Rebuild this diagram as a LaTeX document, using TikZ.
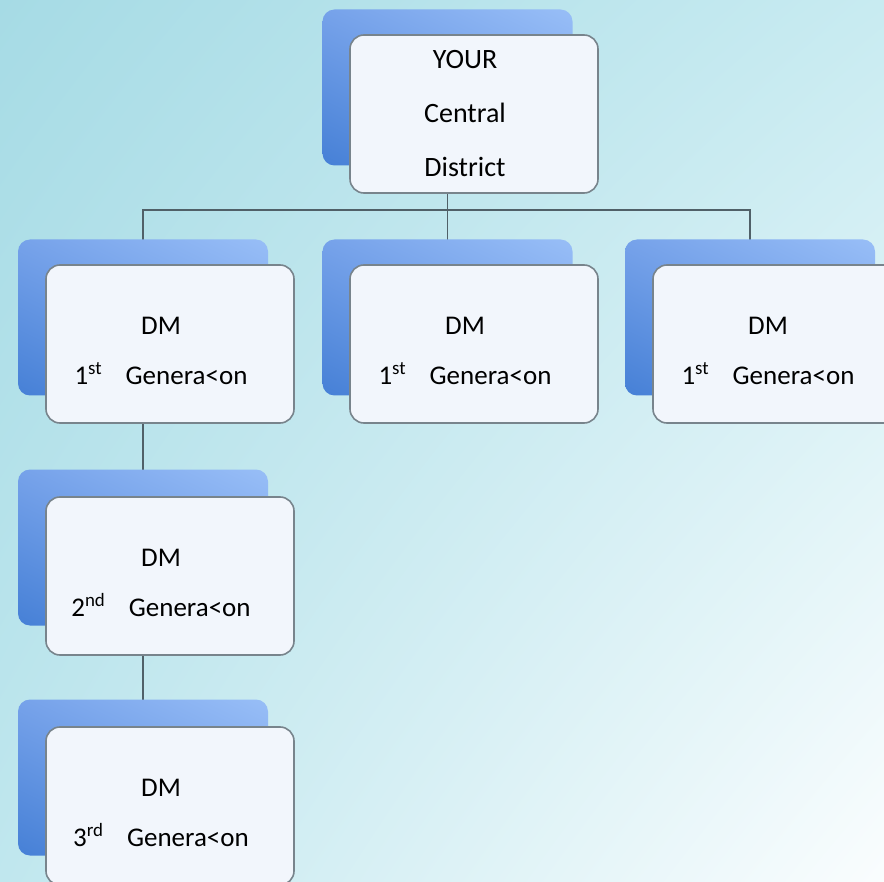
\documentclass[tikz,border=0pt]{standalone}
\usepackage{fontspec}
\setmainfont{Carlito}
\usepackage{xcolor}
\usepackage{tikz}
\usetikzlibrary{calc,positioning,shadings}

\definecolor{bgUL}{RGB}{166,219,229}
\definecolor{bgUR}{RGB}{200,235,241}
\definecolor{bgLL}{RGB}{192,231,238}
\definecolor{bgLR}{RGB}{250,253,254}
\definecolor{shUL}{RGB}{118,162,234}
\definecolor{shUR}{RGB}{152,190,247}
\definecolor{shLL}{RGB}{70,128,214}
\definecolor{shLR}{RGB}{108,154,230}
\definecolor{boxfill}{RGB}{242,246,252}
\definecolor{boxline}{RGB}{120,132,140}
\definecolor{wireline}{RGB}{80,96,104}

\pgfdeclarelayer{bg}
\pgfdeclarelayer{wires}
\pgfsetlayers{bg,wires,main}

\tikzset{
  backbox/.style={rounded corners=6pt, minimum width=125pt, minimum height=78pt,
    inner sep=0pt, upper left=shUL, upper right=shUR, lower left=shLL, lower right=shLR},
  frontbox/.style={draw=boxline, line width=0.8pt, fill=boxfill, rounded corners=7pt,
    minimum width=124pt, minimum height=79pt, inner sep=0pt},
  boxtext/.style={inner sep=0pt, align=center, font=\fontsize{13.5}{25}\selectfont},
  wire/.style={draw=wireline, line width=0.8pt}
}

\newcommand{\gen}[1]{DM\\[0pt]#1\hspace{0.85em}Genera<on}

\begin{document}
\begin{tikzpicture}[x=0.5pt, y=-0.5pt, line cap=round, line join=round]

% ---------------------------------------------------------
% Page and background
% ---------------------------------------------------------
\useasboundingbox (0,0) rectangle (884,882);
\clip (0,0) rectangle (884,882);
\begin{pgfonlayer}{bg}
  \shade[upper left=bgUL, upper right=bgUR, lower left=bgLL, lower right=bgLR]
    (0,0) rectangle (884,882);
\end{pgfonlayer}

% ---------------------------------------------------------
% Blue back panels
% ---------------------------------------------------------
\node[backbox] (distsh)  at (447.5,87.5)  {};
\node[backbox] (genAsh)  at (143,317.5)   {};
\node[backbox] (genBsh)  at (447.5,317.5) {};
\node[backbox] (genCsh)  at (750,317.5)   {};
\node[backbox] (genTsh)  at (143,547.5)   {};
\node[backbox] (genRsh)  at (143,777.5)   {};

% ---------------------------------------------------------
% White boxes
% ---------------------------------------------------------
\node[frontbox] (dist) at (474,114) {};
\node[frontbox] (genA) at (170,344) {};
\node[frontbox] (genB) at (474,344) {};
\node[frontbox] (genC) at (777,344) {};
\node[frontbox] (genT) at (170,576) {};
\node[frontbox] (genR) at (170,806) {};

% ---------------------------------------------------------
% Texts (a little left of the box centres)
% ---------------------------------------------------------
\node[boxtext, font=\fontsize{14}{27}\selectfont] (disttxt) at ([xshift=-4.5pt]dist.center) {YOUR\\Central\\District};
\node[boxtext] (genAtxt) at ([xshift=-4.5pt,yshift=-3.5pt]genA.center) {\gen{1\textsuperscript{st}}};
\node[boxtext] (genBtxt) at ([xshift=-4.5pt,yshift=-3.5pt]genB.center) {\gen{1\textsuperscript{st}}};
\node[boxtext] (genCtxt) at ([xshift=-4.5pt,yshift=-3.5pt]genC.center) {\gen{1\textsuperscript{st}}};
\node[boxtext] (genTtxt) at ([xshift=-4.5pt,yshift=-3.5pt]genT.center) {\gen{2\textsuperscript{nd}}};
\node[boxtext] (genRtxt) at ([xshift=-4.5pt,yshift=-3.5pt]genR.center) {\gen{3\textsuperscript{rd}}};

% ---------------------------------------------------------
% Connectors (behind the panels)
% ---------------------------------------------------------
\begin{pgfonlayer}{wires}
  \coordinate (bus) at (447.5,210);
  \draw[wire] (distsh.center) -- (bus);
  \foreach \n in {genAsh,genBsh,genCsh}
    \draw[wire] (bus) -| (\n.center);
  \draw[wire] (genAsh.center) -- (genTsh.center) -- (genRsh.center);
\end{pgfonlayer}

\end{tikzpicture}
\end{document}
